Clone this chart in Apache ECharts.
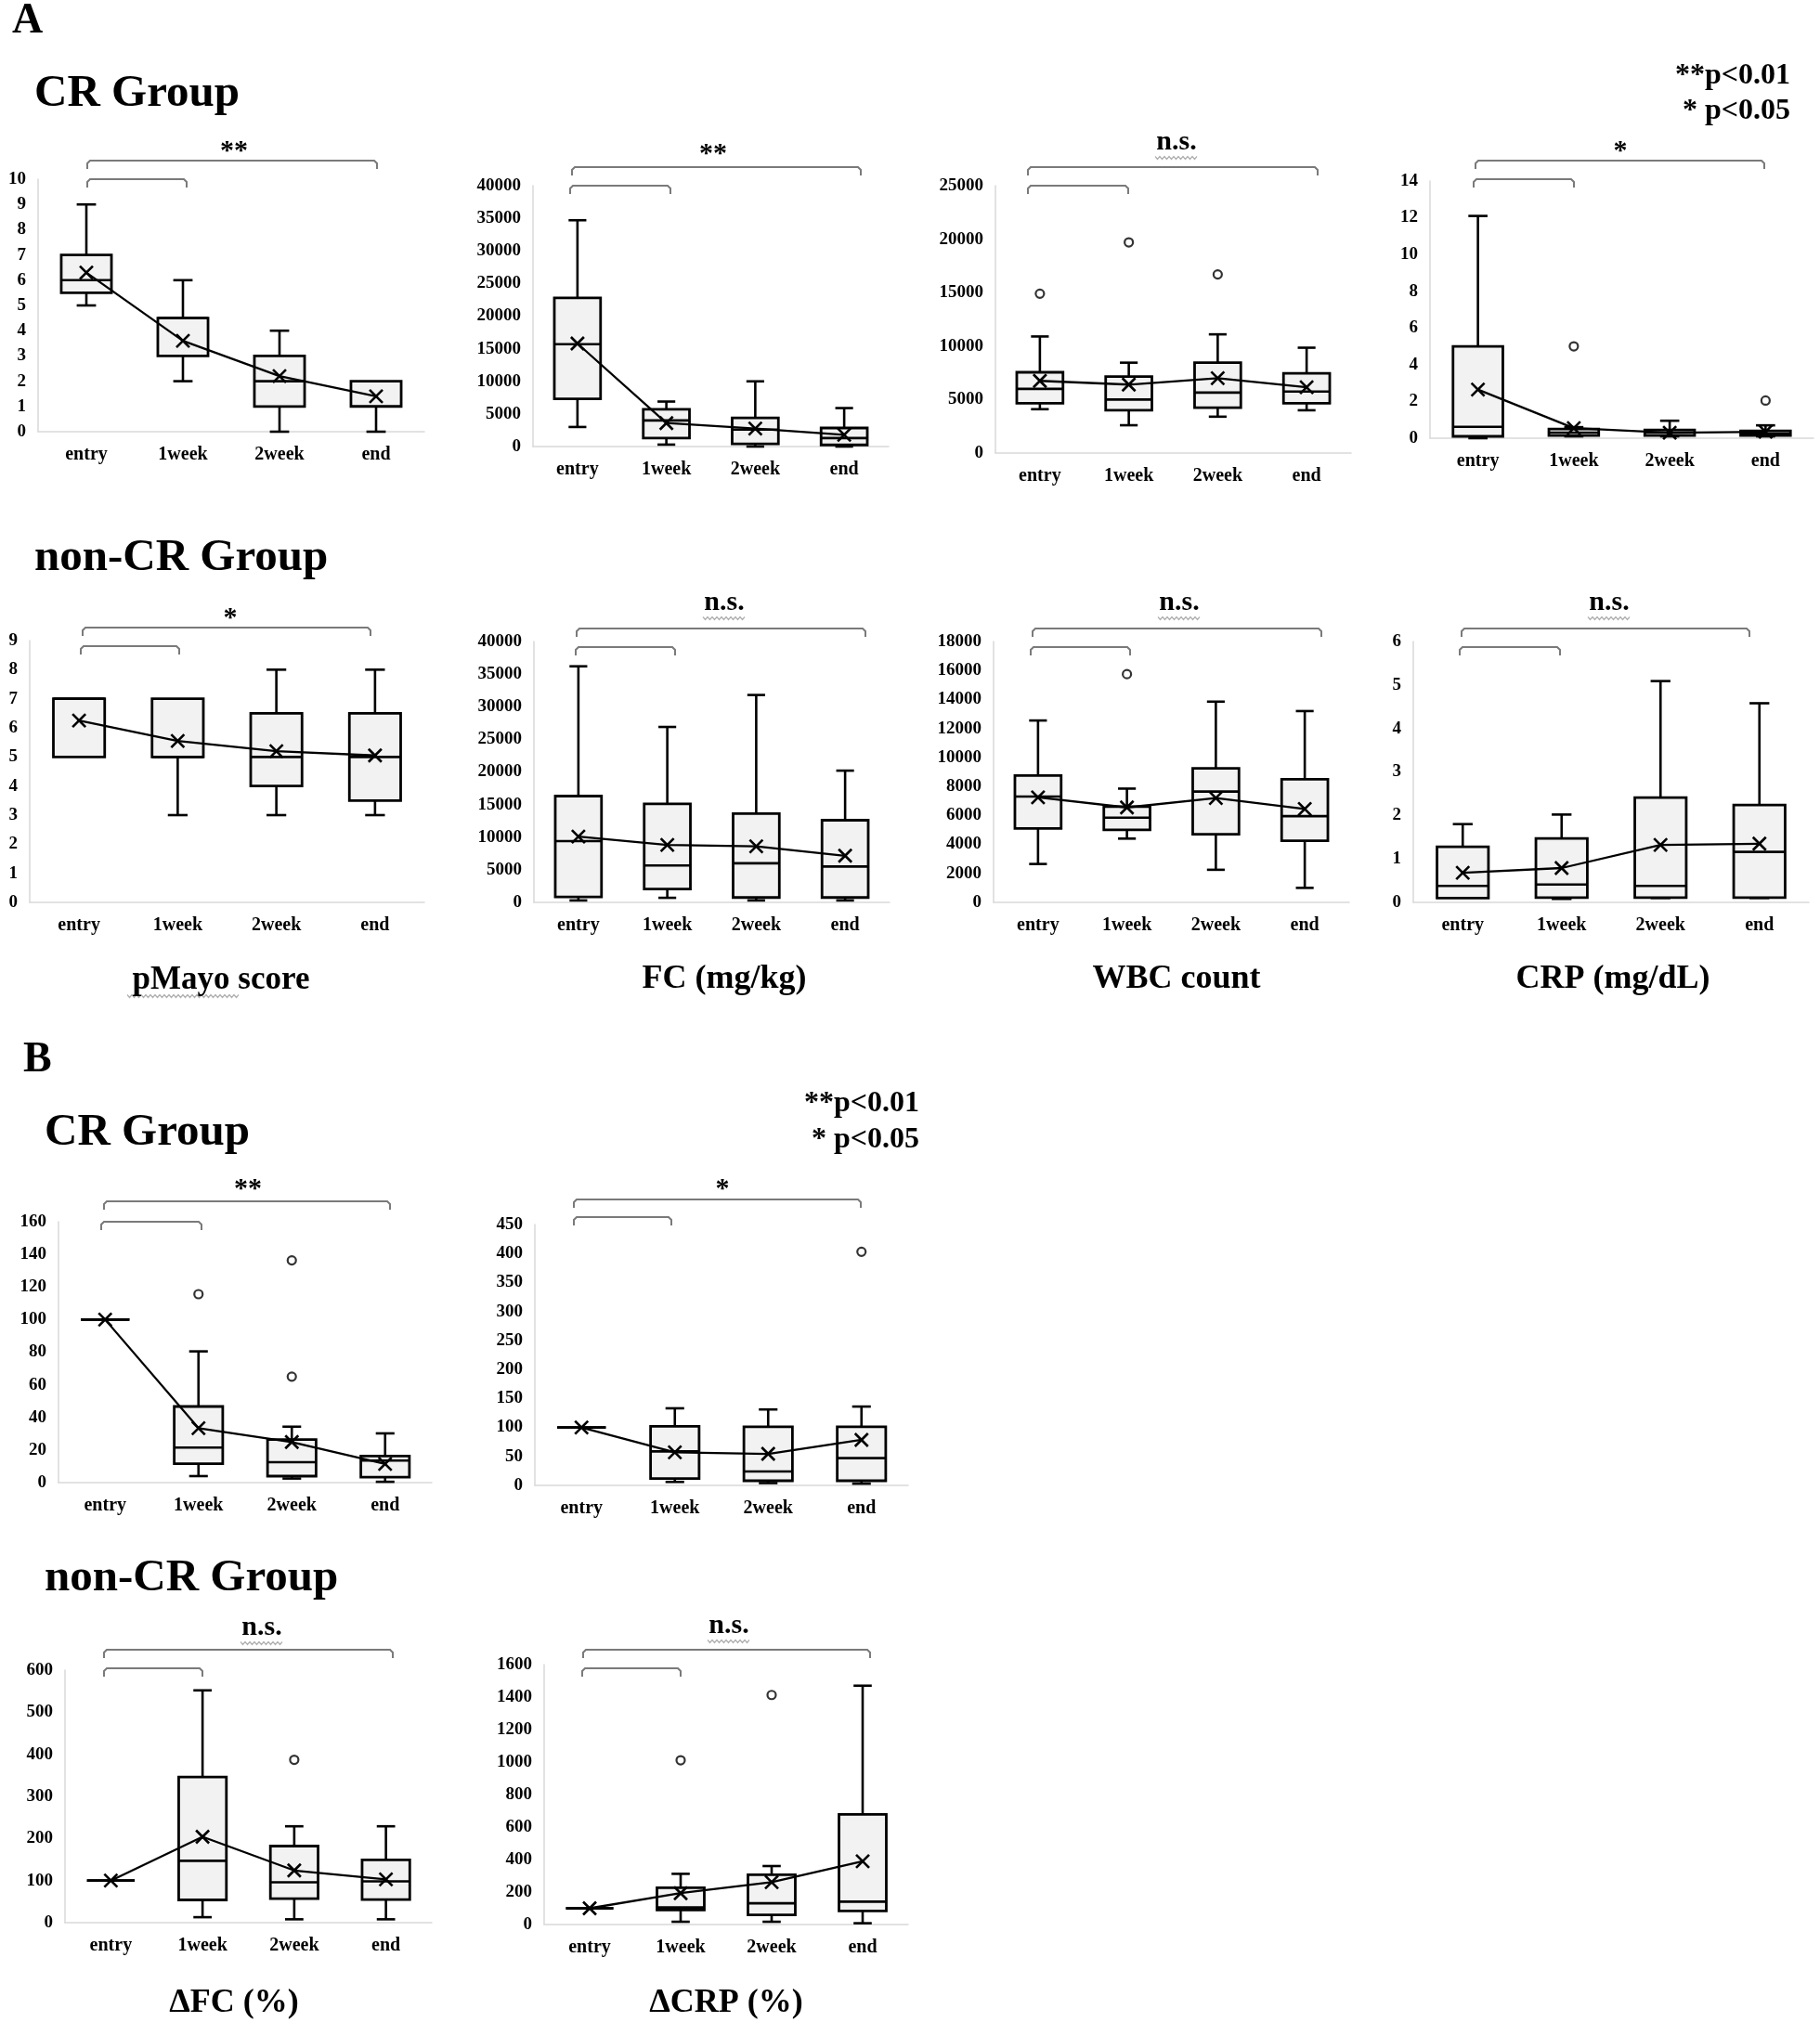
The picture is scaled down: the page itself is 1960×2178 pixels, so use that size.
<!DOCTYPE html>
<html><head><meta charset="utf-8">
<script src="https://cdn.jsdelivr.net/npm/echarts@6/dist/echarts.min.js"></script>
<style>html,body{margin:0;padding:0;background:#fff}#c{width:1960px;height:2178px}</style>
</head><body><div id="c"></div>
<script>
// ---------- DATA ----------
const categories = ['entry', '1week', '2week', 'end'];

// box values: [min, Q1, median, Q3, max]
const pMayoCR_box = [[5,5.5,6,7,9],[2,3,4.5,4.5,6],[0,1,2,3,4],[0,1,1,2,2]];
const pMayoCR_mean = [6.3, 3.6, 2.2, 1.4];
const pMayoCR_out = [];
const pMayoCR_ticks = [0, 10, 1];

const fcCR_box = [[3000,7300,15700,22800,34700],[300,1300,4000,5700,6900],[0,400,2600,4400,10000],[0,250,1300,2850,5900]];
const fcCR_mean = [15800, 3600, 2750, 1800];
const fcCR_out = [];
const fcCR_ticks = [0, 40000, 5000];

const wbcCR_box = [[4100,4650,6000,7550,10900],[2600,4000,5000,7150,8450],[3400,4250,5650,8450,11100],[4000,4650,5750,7450,9850]];
const wbcCR_mean = [6750, 6400, 7000, 6150];
const wbcCR_out = [[0,14900],[1,19700],[2,16700]];
const wbcCR_ticks = [0, 25000, 5000];

const crpCR_box = [[0,0.1,0.62,5.0,12.1],[0.1,0.15,0.3,0.5,0.6],[0.1,0.15,0.3,0.45,0.95],[0.1,0.15,0.25,0.4,0.7]];
const crpCR_mean = [2.65, 0.55, 0.3, 0.35];
const crpCR_out = [[1,5.0],[3,2.05]];
const crpCR_ticks = [0, 14, 2];

const pMayoNon_box = [[5,5,7,7,7],[3,5,5,7,7],[3,4,5,6.5,8],[3,3.5,5,6.5,8]];
const pMayoNon_mean = [6.25, 5.55, 5.2, 5.05];
const pMayoNon_out = [];
const pMayoNon_ticks = [0, 9, 1];

const fcNon_box = [[300,850,9400,16300,36200],[700,2050,5650,15100,26900],[300,750,6000,13600,31800],[300,750,5500,12600,20200]];
const fcNon_mean = [10100, 8800, 8600, 7150];
const fcNon_out = [];
const fcNon_ticks = [0, 40000, 5000];

const wbcNon_box = [[2650,5100,7300,8750,12550],[4400,5000,5850,6600,7850],[2250,4700,7650,9250,13850],[1000,4250,5950,8500,13200]];
const wbcNon_mean = [7250, 6550, 7200, 6450];
const wbcNon_out = [[1,15750]];
const wbcNon_ticks = [0, 18000, 2000];

const crpNon_box = [[0.1,0.1,0.38,1.28,1.8],[0.08,0.11,0.41,1.47,2.02],[0.1,0.11,0.38,2.41,5.09],[0.1,0.11,1.16,2.24,4.58]];
const crpNon_mean = [0.68, 0.79, 1.32, 1.35];
const crpNon_out = [];
const crpNon_ticks = [0, 6, 1];

const dFcCR_box = [[100,100,100,100,100],[4,11.6,21.5,46.7,80.5],[2.5,4,12.5,26.4,34.3],[0.5,3.4,13.5,16.3,30.2]];
const dFcCR_mean = [100, 33.4, 24.9, 11.5];
const dFcCR_out = [[1,115.6],[2,136.3],[2,65]];
const dFcCR_ticks = [0, 160, 20];

const dCrpCR_box = [[100,100,100,100,100],[6,11.7,58.7,102,133],[4,8,24,101,131],[3,8,47,101,136]];
const dCrpCR_mean = [100, 57, 54.4, 78.5];
const dCrpCR_out = [[3,403]];
const dCrpCR_ticks = [0, 450, 50];

const dFcNon_box = [[100,100,100,100,100],[13,54,147,346,552],[8,57,96,182,229],[8,55,98,149,229]];
const dFcNon_mean = [100, 204, 124, 103];
const dFcNon_out = [[2,387]];
const dFcNon_ticks = [0, 600, 100];

const dCrpNon_box = [[100,100,100,100,100],[17,90,105,227,312],[17,59,131,307,360],[8,84,141,678,1470]];
const dCrpNon_mean = [100, 193, 261, 389];
const dCrpNon_out = [[1,1011],[2,1413]];
const dCrpNon_ticks = [0, 1600, 200];

// ---------- LAYOUT ----------
const FONT = '"Liberation Serif", "Times New Roman", serif';
const panels = [
 {box:pMayoCR_box, mean:pMayoCR_mean, out:pMayoCR_out, ticks:pMayoCR_ticks, rect:[41,193,457,465], top:[173,94,406], low:[193,94,201], sig:'**', sxy:[252,157]},
 {box:fcCR_box, mean:fcCR_mean, out:fcCR_out, ticks:fcCR_ticks, rect:[574,200,957,481], top:[180,616,927], low:[200,614,722], sig:'**', sxy:[768,160]},
 {box:wbcCR_box, mean:wbcCR_mean, out:wbcCR_out, ticks:wbcCR_ticks, rect:[1072,200,1455,488], top:[180,1107,1419], low:[200,1107,1215], sig:'n.s.', sxy:[1267,157]},
 {box:crpCR_box, mean:crpCR_mean, out:crpCR_out, ticks:crpCR_ticks, rect:[1540,195,1953,472], top:[173,1589,1900], low:[193,1587,1695], sig:'*', sxy:[1745,157]},
 {box:pMayoNon_box, mean:pMayoNon_mean, out:pMayoNon_out, ticks:pMayoNon_ticks, rect:[32,690,457,972], top:[676,89,399], low:[696,87,193], sig:'*', sxy:[248,660]},
 {box:fcNon_box, mean:fcNon_mean, out:fcNon_out, ticks:fcNon_ticks, rect:[575,691,958,972], top:[677,621,932], low:[697,620,727], sig:'n.s.', sxy:[780,653]},
 {box:wbcNon_box, mean:wbcNon_mean, out:wbcNon_out, ticks:wbcNon_ticks, rect:[1070,691,1453,972], top:[677,1112,1423], low:[697,1110,1217], sig:'n.s.', sxy:[1270,653]},
 {box:crpNon_box, mean:crpNon_mean, out:crpNon_out, ticks:crpNon_ticks, rect:[1522,691,1948,972], top:[677,1574,1884], low:[697,1572,1680], sig:'n.s.', sxy:[1733,653]},
 {box:dFcCR_box, mean:dFcCR_mean, out:dFcCR_out, ticks:dFcCR_ticks, rect:[63,1316,465,1597], top:[1294,112,420], low:[1316,109,217], sig:'**', sxy:[267,1275]},
 {box:dCrpCR_box, mean:dCrpCR_mean, out:dCrpCR_out, ticks:dCrpCR_ticks, rect:[576,1319,978,1600], top:[1292,618,927], low:[1311,618,723], sig:'*', sxy:[778,1275]},
 {box:dFcNon_box, mean:dFcNon_mean, out:dFcNon_out, ticks:dFcNon_ticks, rect:[70,1799,465,2071], top:[1777,112,423], low:[1797,112,218], sig:'n.s.', sxy:[282,1757]},
 {box:dCrpNon_box, mean:dCrpNon_mean, out:dCrpNon_out, ticks:dCrpNon_ticks, rect:[586,1793,978,2073], top:[1777,628,937], low:[1797,627,733], sig:'n.s.', sxy:[785,1755]}
];

function renderBox(params, api) {
  const k = api.value(0);
  const mn = api.value(1), q1 = api.value(2), md = api.value(3), q3 = api.value(4), mx = api.value(5), mean = api.value(6);
  const band = api.size([1, 0])[0];
  const cx = api.coord([k, 0])[0];
  const Y = v => api.coord([k, v])[1];
  const hw = band * 0.26, cw = band * 0.1;
  const L = (x1, y1, x2, y2, w) => ({type: 'line', shape: {x1, y1, x2, y2}, style: {stroke: '#000', lineWidth: w || 2.6}});
  const ch = [];
  if (mx > q3) { ch.push(L(cx, Y(mx), cx, Y(q3))); ch.push(L(cx - cw, Y(mx), cx + cw, Y(mx))); }
  if (mn < q1) { ch.push(L(cx, Y(q1), cx, Y(mn))); ch.push(L(cx - cw, Y(mn), cx + cw, Y(mn))); }
  ch.push({type: 'rect', shape: {x: cx - hw, y: Y(q3), width: 2 * hw, height: Y(q1) - Y(q3)}, style: {fill: '#f2f2f2', stroke: '#000', lineWidth: 2.8}});
  ch.push(L(cx - hw, Y(md), cx + hw, Y(md), 2.6));
  const s = 7, my = Y(mean);
  ch.push(L(cx - s, my - s, cx + s, my + s, 2.6));
  ch.push(L(cx - s, my + s, cx + s, my - s, 2.6));
  return {type: 'group', children: ch};
}

function bracket(y, x1, x2, d) {
  return {type: 'polyline', silent: true, z: 10,
    shape: {points: [[x1, y + d], [x1, y + 3], [x1 + 3, y], [x2 - 3, y], [x2, y + 3], [x2, y + d]]},
    style: {stroke: '#7a7a7a', lineWidth: 2, fill: null}};
}
function wavy(x1, x2, y) {
  const pts = [];
  let up = true;
  for (let x = x1; x <= x2; x += 2.5) { pts.push([x, y + (up ? -1.5 : 1.5)]); up = !up; }
  return {type: 'polyline', silent: true, shape: {points: pts}, style: {stroke: '#b0b0b0', lineWidth: 1.2, fill: null}};
}
function txt(t, x, y, size, align) {
  return {type: 'text', x, y, silent: true, z: 10,
    style: {text: t, fill: '#000', font: 'bold ' + size + 'px ' + FONT, align: align || 'left', verticalAlign: 'middle'}};
}

const grids = [], xAxes = [], yAxes = [], series = [], graphics = [];
panels.forEach((p, i) => {
  const [l, t, r, b] = p.rect;
  grids.push({left: l, top: t, width: r - l, height: b - t, containLabel: false, outerBoundsMode: 'none'});
  xAxes.push({type: 'category', gridIndex: i, data: categories, boundaryGap: true,
    axisLine: {lineStyle: {color: '#d9d9d9', width: 1.5}}, axisTick: {show: false},
    axisLabel: {color: '#000', fontFamily: FONT, fontWeight: 'bold', fontSize: 20, margin: 15}});
  yAxes.push({type: 'value', gridIndex: i, min: p.ticks[0], max: p.ticks[1], interval: p.ticks[2],
    axisLine: {show: true, lineStyle: {color: '#d9d9d9', width: 1.5}}, axisTick: {show: false}, splitLine: {show: false},
    axisLabel: {color: '#000', fontFamily: FONT, fontWeight: 'bold', fontSize: 19, margin: 13, formatter: v => String(v)}});
  series.push({type: 'custom', xAxisIndex: i, yAxisIndex: i, renderItem: renderBox, silent: true, z: 2,
    data: p.box.map((bx, k) => [k, bx[0], bx[1], bx[2], bx[3], bx[4], p.mean[k]]),
    encode: {x: 0, y: [1, 2, 3, 4, 5, 6]}});
  series.push({type: 'line', xAxisIndex: i, yAxisIndex: i, data: p.mean, symbol: 'none', silent: true, z: 3,
    lineStyle: {color: '#000', width: 2.3}});
  if (p.out.length) series.push({type: 'scatter', xAxisIndex: i, yAxisIndex: i, data: p.out, symbol: 'circle', symbolSize: 9, silent: true, z: 4,
    itemStyle: {color: '#fff', borderColor: '#000', borderWidth: 2.2}});
  graphics.push(bracket(p.top[0], p.top[1], p.top[2], 9));
  graphics.push(bracket(p.low[0], p.low[1], p.low[2], 9));
  const isNs = p.sig === 'n.s.';
  graphics.push(txt(p.sig, p.sxy[0], p.sxy[1] + (isNs ? -4 : 6), 30, 'center'));
  if (isNs) graphics.push(wavy(p.sxy[0] - 23, p.sxy[0] + 23, p.sxy[1] + 13));
});

// headings & labels
graphics.push(txt('A', 13, 23, 46));
graphics.push(txt('CR Group', 37, 101, 49));
graphics.push(txt('**p<0.01', 1928, 82, 32, 'right'));
graphics.push(txt('* p<0.05', 1928, 120, 32, 'right'));
graphics.push(txt('non-CR Group', 37, 601, 49));
graphics.push(txt('pMayo score', 238, 1056, 35, 'center'));
graphics.push(wavy(137, 257, 1073));
graphics.push(txt('FC (mg/kg)', 780, 1055, 36, 'center'));
graphics.push(txt('WBC count', 1267, 1055, 36, 'center'));
graphics.push(txt('CRP (mg/dL)', 1737, 1055, 36, 'center'));
graphics.push(txt('B', 25, 1142, 46));
graphics.push(txt('CR Group', 48, 1220, 49));
graphics.push(txt('**p<0.01', 990, 1189, 32, 'right'));
graphics.push(txt('* p<0.05', 990, 1228, 32, 'right'));
graphics.push(txt('non-CR Group', 48, 1700, 49));
graphics.push(txt('\u0394FC (%)', 252, 2158, 36, 'center'));
graphics.push(txt('\u0394CRP (%)', 782, 2158, 36, 'center'));

const chart = echarts.init(document.getElementById('c'), null, {renderer: 'canvas'});
chart.setOption({
  animation: false,
  backgroundColor: '#fff',
  grid: grids, xAxis: xAxes, yAxis: yAxes, series: series, graphic: graphics
});
</script></body></html>
